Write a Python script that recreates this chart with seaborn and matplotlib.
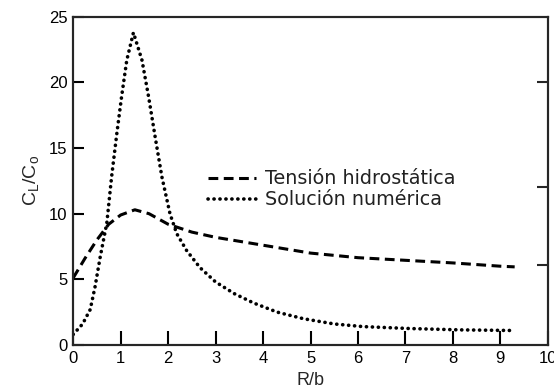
import matplotlib
matplotlib.use("Agg")
import matplotlib.pyplot as plt
import seaborn as sns
import pandas as pd

# Data
x_hidro = [0, 0.25, 0.5, 0.75, 1.0, 1.3, 1.6, 2.0, 2.5, 3, 4, 5, 6, 7, 8, 9, 9.3]
y_hidro = [5.1, 6.6, 8.0, 9.2, 9.9, 10.3, 10.0, 9.2, 8.6, 8.2, 7.6, 7.0, 6.65, 6.45, 6.25, 6.0, 5.95]

x_num = [0, 0.2, 0.36, 0.46, 0.57, 0.71, 0.81, 0.92, 1.02, 1.13, 1.27, 1.45, 1.59, 1.73,
         1.87, 2.04, 2.18, 2.39, 2.67, 3.0, 3.4, 3.8, 4.3, 4.85, 5.5, 6.1, 7.1, 8.15, 9.3]
y_num = [0.8, 1.6, 2.7, 4.4, 6.7, 9.3, 12.8, 16.1, 18.9, 21.7, 23.8, 21.7, 18.9, 15.8,
         12.8, 10.0, 8.5, 7.2, 5.9, 4.8, 3.9, 3.2, 2.5, 2.0, 1.6, 1.4, 1.25, 1.15, 1.1]

labels = ["Tensión hidrostática", "Solución numérica"]
x_ticks = list(range(0, 11))
y_ticks = [0, 5, 10, 15, 20, 25]

sns.set_style("ticks")
plt.rcParams["font.family"] = ["Liberation Sans", "DejaVu Sans"]
plt.rcParams["mathtext.fontset"] = "custom"
plt.rcParams["mathtext.rm"] = "Liberation Sans"
plt.rcParams["mathtext.it"] = "Liberation Sans"

df_h = pd.DataFrame({"x": x_hidro, "y": y_hidro})
df_n = pd.DataFrame({"x": x_num, "y": y_num})

fig = plt.figure(figsize=(5.54, 3.92), dpi=100)
ax = fig.add_axes([0.132, 0.12, 0.857, 0.837])

sns.lineplot(data=df_h, x="x", y="y", ax=ax, color="black", linewidth=2.2,
             label=labels[0], sort=False)
sns.lineplot(data=df_n, x="x", y="y", ax=ax, color="black", linewidth=2.6,
             label=labels[1], sort=False)
l1, l2 = ax.get_lines()[:2]
l1.set_dashes([3.2, 1.8])
l2.set_linestyle((0, (0.05, 1.6)))
l2.set_dash_capstyle("round")

ax.set_xlim(0, 10)
ax.set_ylim(0, 25)
ax.set_xticks(x_ticks)
ax.set_yticks(y_ticks)
ax.tick_params(direction="in", length=8, width=1.5, labelsize=12, colors="black", pad=4)
ax.tick_params(axis="x", length=10)
for s in ax.spines.values():
    s.set_linewidth(1.5)
    s.set_color("black")

ax.set_xlabel("R/b", fontsize=13, labelpad=5)
ax.set_ylabel(r"$\mathrm{C_L/C_o}$", fontsize=14, labelpad=6)

leg = ax.legend(loc="upper left", bbox_to_anchor=(0.284, 0.535), frameon=False,
                handlelength=2.5, handletextpad=0.5, labelspacing=0.1,
                borderaxespad=0, borderpad=0,
                prop={"family": "DejaVu Sans", "size": 13.8})
for t in leg.get_texts():
    t.set_color("#222222")

ax2 = ax.twinx()
ax2.set_ylim(0, 25)
ax2.set_yticks([6.1, 12, 20])
ax2.set_yticklabels([])
ax2.tick_params(direction="in", length=8, width=1.5)
for s in ax2.spines.values():
    s.set_linewidth(1.5)

fig.savefig("out.png", dpi=100)
